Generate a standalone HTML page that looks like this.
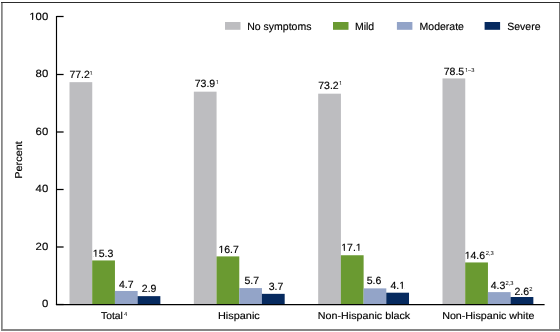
<!DOCTYPE html>
<html><head><meta charset="utf-8"><style>
html,body{margin:0;padding:0;background:#fff;width:560px;height:332px;overflow:hidden}
svg{display:block;will-change:transform}
text{font-family:"Liberation Sans",sans-serif;fill:#000;text-rendering:geometricPrecision;stroke:#000;stroke-width:0.15px}
.s{stroke:none}
</style></head><body>
<svg width="560" height="332" viewBox="0 0 560 332">
<defs><mask id="nf" maskUnits="userSpaceOnUse" x="0" y="0" width="560" height="332"><rect width="560" height="332" fill="#fff"/><g fill="#000"><rect x="89.53" y="74.12" width="1.42" height="1.68"/><rect x="91.46" y="74.12" width="1.37" height="1.68"/><rect x="93.24" y="255.77" width="2.24" height="2.03"/><rect x="96.41" y="255.77" width="2.16" height="2.03"/><rect x="215.85" y="83.12" width="1.42" height="1.68"/><rect x="217.78" y="83.12" width="1.37" height="1.68"/><rect x="218.80" y="251.77" width="2.24" height="2.03"/><rect x="221.97" y="251.77" width="2.16" height="2.03"/><rect x="339.06" y="84.12" width="1.42" height="1.68"/><rect x="340.99" y="84.12" width="1.37" height="1.68"/><rect x="341.60" y="249.77" width="2.24" height="2.03"/><rect x="344.77" y="249.77" width="2.16" height="2.03"/><rect x="356.19" y="249.77" width="2.24" height="2.03"/><rect x="359.36" y="249.77" width="2.16" height="2.03"/><rect x="399.53" y="287.77" width="2.24" height="2.03"/><rect x="402.70" y="287.77" width="2.16" height="2.03"/><rect x="464.92" y="71.12" width="1.42" height="1.68"/><rect x="466.85" y="71.12" width="1.37" height="1.68"/><rect x="465.08" y="257.77" width="2.24" height="2.03"/><rect x="468.25" y="257.77" width="2.16" height="2.03"/><rect x="29.74" y="18.77" width="2.39" height="2.03"/><rect x="33.13" y="18.77" width="2.30" height="2.03"/></g></mask></defs>
<rect x="1" y="2" width="559" height="1" fill="#2c2c2c" shape-rendering="crispEdges"/>
<rect x="1" y="3" width="1" height="328" fill="#858585" shape-rendering="crispEdges"/>
<rect x="2" y="3" width="1" height="328" fill="#a5a5a5" shape-rendering="crispEdges"/>
<rect x="559" y="3" width="1" height="328" fill="#707070" shape-rendering="crispEdges"/>
<rect x="1" y="329" width="559" height="2" fill="#858585" shape-rendering="crispEdges"/>
<rect x="69.50" y="82.16" width="22.75" height="222.34" fill="#bdbdc0"/>
<rect x="92.20" y="260.44" width="22.75" height="44.06" fill="#6a9a31"/>
<rect x="114.90" y="290.96" width="22.75" height="13.54" fill="#93a4c8"/>
<rect x="137.60" y="296.15" width="22.75" height="8.35" fill="#062a5f"/>
<rect x="193.83" y="91.67" width="22.75" height="212.83" fill="#bdbdc0"/>
<rect x="216.53" y="256.40" width="22.75" height="48.10" fill="#6a9a31"/>
<rect x="239.23" y="288.08" width="22.75" height="16.42" fill="#93a4c8"/>
<rect x="261.93" y="293.84" width="22.75" height="10.66" fill="#062a5f"/>
<rect x="318.17" y="93.68" width="22.75" height="210.82" fill="#bdbdc0"/>
<rect x="340.87" y="255.25" width="22.75" height="49.25" fill="#6a9a31"/>
<rect x="363.57" y="288.37" width="22.75" height="16.13" fill="#93a4c8"/>
<rect x="386.27" y="292.69" width="22.75" height="11.81" fill="#062a5f"/>
<rect x="442.50" y="78.42" width="22.75" height="226.08" fill="#bdbdc0"/>
<rect x="465.20" y="262.45" width="22.75" height="42.05" fill="#6a9a31"/>
<rect x="487.90" y="292.12" width="22.75" height="12.38" fill="#93a4c8"/>
<rect x="510.60" y="297.01" width="22.75" height="7.49" fill="#062a5f"/>
<line x1="56.5" y1="16" x2="56.5" y2="305.1" stroke="#000" stroke-width="1.15"/>
<line x1="55.9" y1="304.55" x2="544.6" y2="304.55" stroke="#000" stroke-width="1.15"/>
<line x1="56.5" y1="16.50" x2="63.6" y2="16.50" stroke="#000" stroke-width="1.25"/>
<line x1="56.5" y1="74.50" x2="63.6" y2="74.50" stroke="#000" stroke-width="1.25"/>
<line x1="56.5" y1="132.00" x2="63.6" y2="132.00" stroke="#000" stroke-width="1.25"/>
<line x1="56.5" y1="189.50" x2="63.6" y2="189.50" stroke="#000" stroke-width="1.25"/>
<line x1="56.5" y1="247.00" x2="63.6" y2="247.00" stroke="#000" stroke-width="1.25"/>
<line x1="56.5" y1="304.50" x2="63.6" y2="304.50" stroke="#000" stroke-width="1.25"/>
<rect x="225" y="22" width="15.5" height="7.8" fill="#bdbdc0"/>
<rect x="333" y="22" width="15.5" height="7.8" fill="#6a9a31"/>
<rect x="396.9" y="22" width="15.5" height="7.8" fill="#93a4c8"/>
<rect x="484.6" y="22" width="15.5" height="7.8" fill="#062a5f"/>
<g mask="url(#nf)">
<text transform="translate(69.44,78.00)" style="font-size:10.5px">77.2</text>
<text transform="translate(89.49,75.00)" class="s" style="font-size:5.8px">1</text>
<text transform="translate(92.84,257.00)" style="font-size:10.5px">15.3</text>
<text transform="translate(118.89,288.00)" style="font-size:10.5px">4.7</text>
<text transform="translate(141.85,292.00)" style="font-size:10.5px">2.9</text>
<text transform="translate(101.00,319.00) scale(1.035,1)" style="font-size:10.0px">Total</text>
<text transform="translate(123.96,316.00)" class="s" style="font-size:5.8px">4</text>
<text transform="translate(194.72,87.00)" style="font-size:10.5px">73.9</text>
<text transform="translate(215.81,84.00)" class="s" style="font-size:5.8px">1</text>
<text transform="translate(218.40,253.00)" style="font-size:10.5px">16.7</text>
<text transform="translate(244.52,284.00)" style="font-size:10.5px">5.7</text>
<text transform="translate(268.66,290.00)" style="font-size:10.5px">3.7</text>
<text transform="translate(217.95,319.00) scale(1.09,1)" style="font-size:10.0px">Hispanic</text>
<text transform="translate(318.24,89.00)" style="font-size:10.5px">73.2</text>
<text transform="translate(339.01,85.00)" class="s" style="font-size:5.8px">1</text>
<text transform="translate(341.20,251.00)" style="font-size:10.5px">17.1</text>
<text transform="translate(366.68,284.00)" style="font-size:10.5px">5.6</text>
<text transform="translate(390.38,289.00)" style="font-size:10.5px">4.1</text>
<text transform="translate(317.85,319.00) scale(1.072,1)" style="font-size:10.0px">Non-Hispanic black</text>
<text transform="translate(443.70,75.00)" style="font-size:10.5px">78.5</text>
<text transform="translate(464.88,72.00)" class="s" style="font-size:5.8px">1–3</text>
<text transform="translate(464.68,259.00)" style="font-size:10.5px">14.6</text>
<text transform="translate(485.75,255.00)" class="s" style="font-size:5.8px">2,3</text>
<text transform="translate(490.69,289.00)" style="font-size:10.5px">4.3</text>
<text transform="translate(505.50,285.00)" class="s" style="font-size:5.8px">2,3</text>
<text transform="translate(514.47,295.00)" style="font-size:10.5px">2.6</text>
<text transform="translate(529.28,291.00)" class="s" style="font-size:5.8px">2</text>
<text transform="translate(442.15,319.00) scale(1.07,1)" style="font-size:10.0px">Non-Hispanic white</text>
<text transform="translate(29.28,20.00) scale(1.08,1)" style="font-size:10.5px">100</text>
<text transform="translate(35.59,77.00) scale(1.08,1)" style="font-size:10.5px">80</text>
<text transform="translate(35.59,135.00) scale(1.08,1)" style="font-size:10.5px">60</text>
<text transform="translate(35.59,192.00) scale(1.08,1)" style="font-size:10.5px">40</text>
<text transform="translate(35.59,250.00) scale(1.08,1)" style="font-size:10.5px">20</text>
<text transform="translate(41.89,307.00) scale(1.08,1)" style="font-size:10.5px">0</text>
<text transform="translate(22.00,160.00) rotate(-90) scale(1.085,1)" x="-17.23" style="font-size:10.0px">Percent</text>
<text transform="translate(247.25,30.00)" style="font-size:10.5px">No symptoms</text>
<text transform="translate(354.90,30.00)" style="font-size:10.5px">Mild</text>
<text transform="translate(419.60,30.00)" style="font-size:10.5px">Moderate</text>
<text transform="translate(507.20,30.00)" style="font-size:10.5px">Severe</text>
</g>
</svg>
</body></html>
